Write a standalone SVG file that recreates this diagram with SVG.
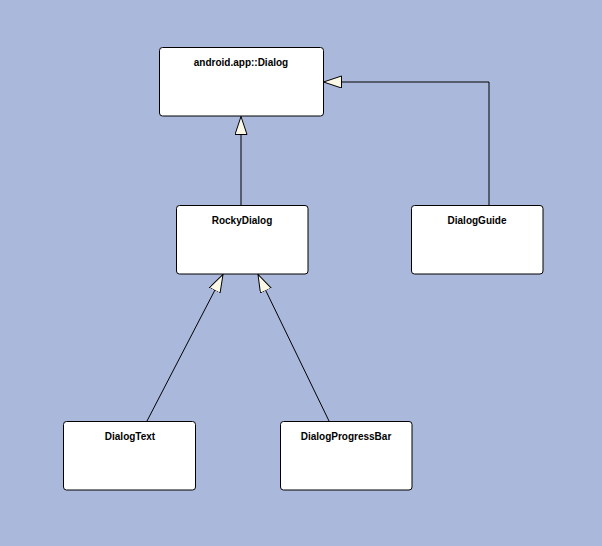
<svg xmlns="http://www.w3.org/2000/svg" width="602" height="546" viewBox="0 0 602 546">
<defs>
<style>
.box{fill:#ffffff;stroke:#000000;stroke-width:1}
.lbl{font-family:"Liberation Sans",Arial,sans-serif;font-size:10px;font-weight:bold;fill:#000000;text-anchor:middle}
.edge{fill:none;stroke:#000000;stroke-width:1}
</style>
<marker id="tri" markerUnits="userSpaceOnUse" markerWidth="20" markerHeight="14" refX="18" refY="6" orient="auto" viewBox="0 0 20 14">
<path d="M0,0 L18,6 L0,12 Z" fill="#fbf8e8" stroke="#000000" stroke-width="1"/>
</marker>
</defs>
<rect width="602" height="546" fill="#aab8dc"/>
<g id="connectors">
<path class="edge" d="M241,205 L241,116.5" marker-end="url(#tri)"/>
<path class="edge" d="M489,205 L489,82 L323.5,82" marker-end="url(#tri)"/>
<path class="edge" d="M147,421 L223,274.5" marker-end="url(#tri)"/>
<path class="edge" d="M329,421 L258,274.5" marker-end="url(#tri)"/>
</g>
<g id="dialog">
<rect class="box" x="159.5" y="47.5" width="164" height="68.5" rx="3"/>
<text class="lbl" x="241" y="66">android.app::Dialog</text>
</g>
<g id="rockydialog">
<rect class="box" x="176.5" y="205.5" width="131.5" height="68.5" rx="3"/>
<text class="lbl" x="242" y="224">RockyDialog</text>
</g>
<g id="dialogguide">
<rect class="box" x="411.5" y="205.5" width="131.5" height="68.5" rx="3"/>
<text class="lbl" x="477" y="224">DialogGuide</text>
</g>
<g id="dialogtext">
<rect class="box" x="63.5" y="421.5" width="132" height="68.5" rx="3"/>
<text class="lbl" x="130" y="440">DialogText</text>
</g>
<g id="dialogprogressbar">
<rect class="box" x="280.5" y="421.5" width="131.5" height="68.5" rx="3"/>
<text class="lbl" x="346" y="440">DialogProgressBar</text>
</g>
</svg>
